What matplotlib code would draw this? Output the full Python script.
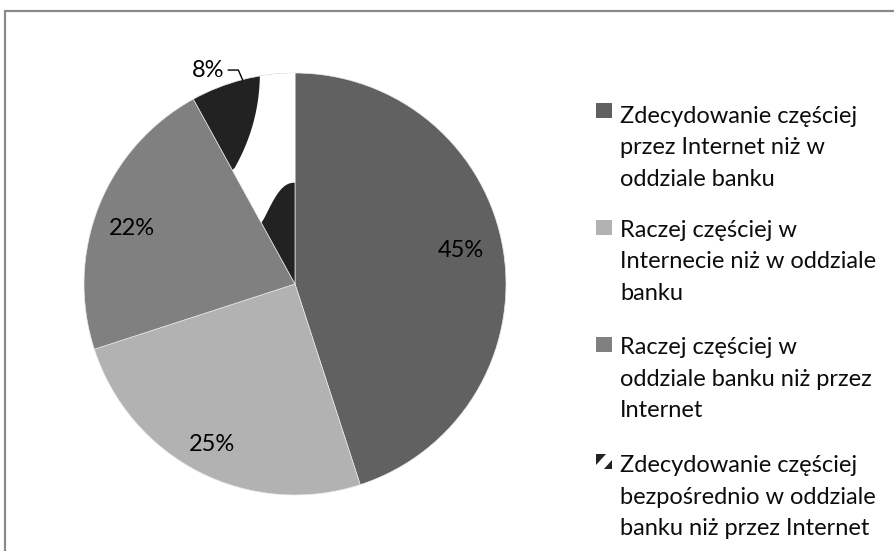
import matplotlib
matplotlib.use("Agg")
import matplotlib.pyplot as plt
import numpy as np
from matplotlib.patches import Rectangle, Polygon

plt.rcParams['font.family'] = ['Lato', 'DejaVu Sans']

labels = [
    "Zdecydowanie częściej\nprzez Internet niż w\noddziale banku",
    "Raczej częściej w\nInternecie niż w oddziale\nbanku",
    "Raczej częściej w\noddziale banku niż przez\nInternet",
    "Zdecydowanie częściej\nbezpośrednio w oddziale\nbanku niż przez Internet",
]
values = [45, 25, 22, 8]
pct_labels = ["45%", "25%", "22%", "8%"]
colors = ["#616161", "#b2b2b2", "#808080", "#222222"]

W, H = 895, 551
fig = plt.figure(figsize=(W / 100, H / 100), dpi=100)

# outer frame
fig.patches.append(Rectangle((5.5 / W, -0.1), 1.2, 1.1 - 10.5 / H,
                             transform=fig.transFigure, fill=False,
                             edgecolor="#8a8a8a", linewidth=1.6))

cx, cy, R = 295, 551 - 284, 211
ax = fig.add_axes([(cx - R) / W, (cy - R) / H, 2 * R / W, 2 * R / H])
wedges, _ = ax.pie(values, colors=colors, startangle=90, counterclock=False,
                   radius=1, wedgeprops=dict(linewidth=0.5, edgecolor="#e8e8e8"))
ax.set_xlim(-1, 1)
ax.set_ylim(-1, 1)
ax.set_aspect('auto')
ax.axis('off')

# pattern for the last wedge (white band over black), smooth curved edges
pw = wedges[3]
t = np.linspace(0, 1, 30)
ul_x = -0.166 - 0.12 * t ** 2.2
ul_y = 1.02 - 0.47 * t
lr_x = -0.16 + 0.16 * t ** 0.8
lr_y = 0.29 + 0.19 * (1 - (1 - t) ** 2.5)
band_pts = ([(-0.12, 1.12)] + list(zip(ul_x, ul_y)) + [(-0.40, 0.45), (-0.22, 0.22)]
            + list(zip(lr_x, lr_y)) + [(0.10, 0.50), (0.10, 1.12)])
band = Polygon(band_pts, closed=True, facecolor="white", edgecolor="none")
ax.add_patch(band)
band.set_clip_path(pw)

# percentage labels
label_pos = [(0.787, 0.161), (-0.393, -0.763), (-0.772, 0.265)]
for lab, (lx, ly) in zip(pct_labels[:3], label_pos):
    ax.text(lx, ly, lab, ha='center', va='center', fontsize=17, color='black')

w = wedges[3]
mid = np.deg2rad((w.theta1 + w.theta2) / 2)
ex, ey = np.cos(mid), np.sin(mid)
tx, ty = -0.336, 1.014
ax.plot([ex, ex - 0.02, tx + 0.02], [ey, ty, ty], color='black', lw=1,
        clip_on=False)
ax.text(tx, ty, pct_labels[3], ha='right', va='center', fontsize=17,
        color='black', clip_on=False)

# legend (manual)
sq_x, sq_w = 596, 16
first_base = [123, 237, 354, 472]
sq_top = [103, 220, 337, 454]
line_gap = 31.5
for i, (lab, col) in enumerate(zip(labels, colors)):
    x0 = sq_x / W
    y0 = (H - sq_top[i] - 15) / H
    if i < 3:
        fig.patches.append(Rectangle((x0, y0), sq_w / W, 15 / H,
                                     transform=fig.transFigure,
                                     facecolor=col, edgecolor='none'))
    else:
        fig.patches.append(Polygon([(x0, y0 + 15 / H), (x0 + 10 / W, y0 + 15 / H),
                                    (x0, y0 + 4 / H)], closed=True,
                                   transform=fig.transFigure,
                                   facecolor=col, edgecolor='none'))
        fig.patches.append(Polygon([(x0 + sq_w / W, y0 + 9 / H),
                                    (x0 + sq_w / W, y0),
                                    (x0 + 8 / W, y0)], closed=True,
                                   transform=fig.transFigure,
                                   facecolor=col, edgecolor='none'))
    for j, line in enumerate(lab.split("\n")):
        fig.text(620 / W, (H - first_base[i] - j * line_gap) / H, line,
                 ha='left', va='baseline', fontsize=17, color='#0d0d0d')

fig.savefig("out.png", dpi=100)
